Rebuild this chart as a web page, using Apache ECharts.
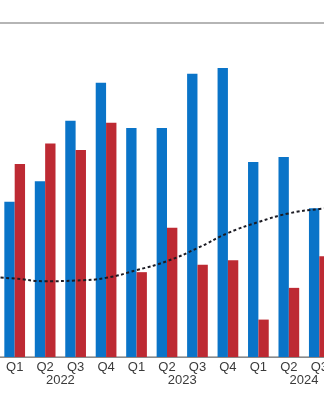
<!DOCTYPE html>
<html>
<head>
<meta charset="utf-8">
<script src="https://cdn.jsdelivr.net/npm/echarts@6/dist/echarts.min.js"></script>
<style>
html,body{margin:0;padding:0;background:#fff;overflow:hidden;width:324px;height:400px;position:relative;}
#chart{position:absolute;left:-30.6px;top:0;width:396px;height:400px;}
</style>
</head>
<body>
<div id="chart"></div>
<script>
// Data (first and last quarters lie mostly off-screen)
const quarters = ['Q4','Q1','Q2','Q3','Q4','Q1','Q2','Q3','Q4','Q1','Q2','Q3','Q4'];
const quarterYears = ['2021','2022','2022','2022','2022','2023','2023','2023','2023','2024','2024','2024','2024'];
const blueValues = [null, 46.5, 52.6, 70.7, 82.1, 68.6, 68.6, 84.8, 86.5, 58.4, 59.9, 44.5, null];
const redValues = [null, 57.8, 63.9, 62.0, 70.1, 25.4, 38.7, 27.6, 29.0, 11.2, 20.7, 30.2, null];
const trendValues = [24.0, 23.5, 22.7, 22.9, 23.7, 26.0, 28.7, 32.6, 37.1, 40.4, 43.0, 44.3, 45.1];

// Year labels centred over their four quarters
const yearNames = [];
const yearCenters = [];
quarters.forEach((q, i) => {
  if (q === 'Q1' && i + 3 < quarters.length) {
    yearNames.push(quarterYears[i]);
    yearCenters.push(i + 1.5);
  }
});

const chart = echarts.init(document.getElementById('chart'), null, {renderer: 'canvas'});
const font = 'Liberation Sans, Arial, sans-serif';
chart.setOption({
  animation: false,
  backgroundColor: '#ffffff',
  grid: {left: 0, right: 0, top: 23, bottom: 43, containLabel: false},
  xAxis: [
    {
      type: 'category',
      data: quarters,
      boundaryGap: true,
      axisLine: {show: true, lineStyle: {color: '#8a8a8a', width: 1}},
      axisTick: {show: false},
      axisLabel: {color: '#3a3a3a', fontFamily: font, fontSize: 13, margin: 4, interval: 0}
    },
    {
      type: 'value',
      min: -0.5,
      max: quarters.length - 0.5,
      position: 'bottom',
      axisLine: {show: false},
      axisTick: {show: false},
      splitLine: {show: false},
      axisLabel: {
        customValues: yearCenters,
        formatter: (v) => {
          const k = yearCenters.indexOf(v);
          return k >= 0 ? yearNames[k] : '';
        },
        color: '#3a3a3a', fontFamily: font, fontSize: 13, margin: 17
      }
    }
  ],
  yAxis: {
    type: 'value',
    min: 0,
    max: 100,
    interval: 100,
    axisLine: {show: false},
    axisTick: {show: false},
    axisLabel: {show: false},
    splitLine: {show: true, lineStyle: {color: '#9c9c9c', width: 1.5}}
  },
  series: [
    {
      type: 'bar',
      data: blueValues,
      itemStyle: {color: '#0a74c8'},
      barGap: '0%',
      barCategoryGap: '32%'
    },
    {
      type: 'bar',
      data: redValues,
      itemStyle: {color: '#bd2a33'},
      barGap: '0%',
      barCategoryGap: '32%'
    },
    {
      type: 'line',
      data: trendValues,
      smooth: 0.5,
      symbol: 'none',
      z: 5,
      lineStyle: {color: '#1c1c24', width: 2, type: [3, 2.5]}
    }
  ]
});
</script>
</body>
</html>
